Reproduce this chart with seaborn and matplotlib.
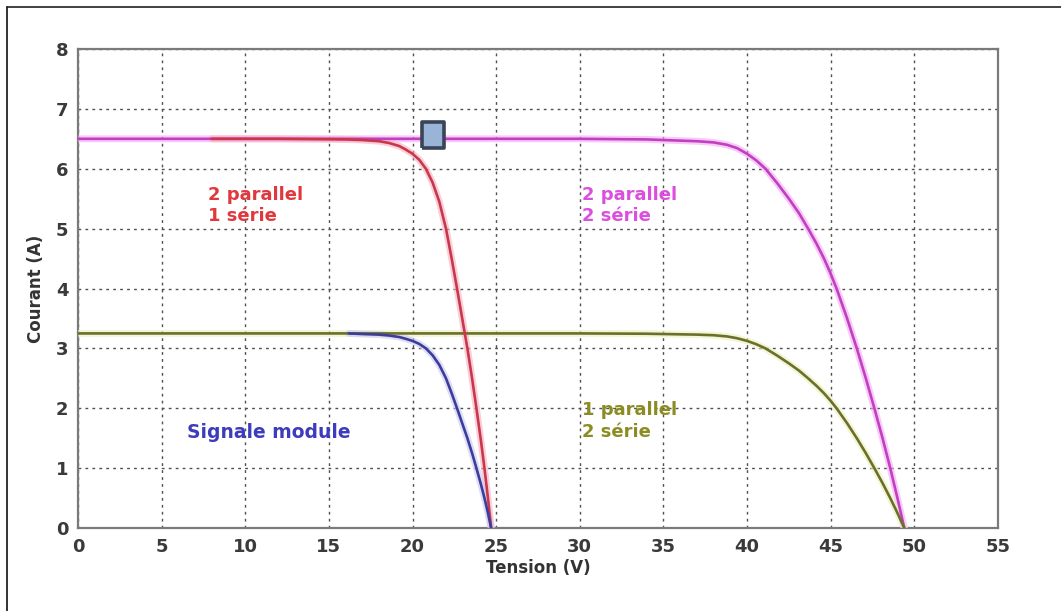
import matplotlib
matplotlib.use("Agg")
import matplotlib.pyplot as plt
from matplotlib.lines import Line2D
import seaborn as sns
import pandas as pd

# I-V characteristics of a PV array for different series/parallel groupings
v_2p2s = [0, 10, 20, 30, 34, 37, 38.0, 38.8, 39.4, 40.0, 40.55, 41.1, 41.8, 42.5,
          43.1, 43.65, 44.15, 44.6, 44.98, 45.35, 45.98, 46.56, 47.1, 47.61, 48.1,
          48.56, 48.99, 49.4]
i_2p2s = [6.5, 6.5, 6.5, 6.5, 6.49, 6.46, 6.44, 6.40, 6.345, 6.25, 6.14, 6.0, 5.76,
          5.5, 5.26, 5.0, 4.75, 4.5, 4.26, 4.0, 3.5, 3.0, 2.5, 2.0, 1.5, 1.0, 0.5, 0.0]

v_1p2s = [0, 10, 20, 30, 34, 37, 38.0, 38.8, 39.4, 40.0, 40.55, 41.1, 41.8, 42.5,
          43.1, 43.65, 44.15, 44.6, 44.98, 45.35, 45.98, 46.56, 47.1, 47.61, 48.1,
          48.56, 48.99, 49.4]
i_1p2s = [3.25, 3.25, 3.25, 3.25, 3.245, 3.23, 3.22, 3.20, 3.17, 3.125, 3.07, 3.0,
          2.88, 2.75, 2.63, 2.5, 2.375, 2.25, 2.13, 2.0, 1.75, 1.5, 1.25, 1.0, 0.75,
          0.5, 0.25, 0.0]

v_2p1s = [8, 12, 16, 17, 18, 18.6, 19.2, 19.6, 20.0, 20.4, 20.8, 21.2, 21.6, 22.0,
          22.34, 22.66, 22.97, 23.28, 23.56, 23.82, 24.07, 24.3, 24.51, 24.7]
i_2p1s = [6.5, 6.5, 6.49, 6.48, 6.46, 6.43, 6.38, 6.32, 6.25, 6.15, 6.0, 5.77, 5.45,
          5.0, 4.5, 4.0, 3.5, 3.0, 2.5, 2.0, 1.5, 1.0, 0.5, 0.0]

v_single = [16.2, 17, 18, 18.6, 19.2, 19.6, 20.0, 20.4, 20.8, 21.2, 21.6, 22.0,
            22.34, 22.66, 22.97, 23.28, 23.56, 23.82, 24.07, 24.3, 24.51, 24.7]
i_single = [3.25, 3.24, 3.23, 3.215, 3.19, 3.16, 3.125, 3.075, 3.0, 2.885, 2.725, 2.5,
            2.25, 2.0, 1.75, 1.5, 1.25, 1.0, 0.75, 0.5, 0.25, 0.0]

# data-tip marker
tip_v = [21.2]
tip_i = [6.56]

x_ticks = [0, 5, 10, 15, 20, 25, 30, 35, 40, 45, 50, 55]
y_ticks = [0, 1, 2, 3, 4, 5, 6, 7, 8]

sns.set_theme(style="white")
plt.rcParams["font.family"] = ["DejaVu Sans"]

fig = plt.figure(figsize=(10.61, 6.11), dpi=100)
ax = fig.add_axes([0.0735, 0.1358, 0.8671, 0.784])

curves = [
    (v_2p2s, i_2p2s, "#c040c0", "#f6a8f6"),
    (v_1p2s, i_1p2s, "#6e6e2c", "#e8f0b8"),
    (v_2p1s, i_2p1s, "#c8384c", "#f8b0c0"),
    (v_single, i_single, "#3c3c9c", "#c8c8f0"),
]
for v, i, core, halo in curves:
    df = pd.DataFrame({"V": v, "I": i})
    sns.lineplot(data=df, x="V", y="I", ax=ax, color=halo, lw=5.0,
                 sort=False, estimator=None, alpha=0.6, zorder=3)
for v, i, core, halo in curves:
    df = pd.DataFrame({"V": v, "I": i})
    sns.lineplot(data=df, x="V", y="I", ax=ax, color=core, lw=1.9,
                 sort=False, estimator=None, zorder=4)

ax.plot(tip_v, tip_i, linestyle="none",
        marker=[(-1, -1.25), (1, -1.25), (1, 1.25), (-1, 1.25), (-1, -1.25)],
        markersize=19, markerfacecolor="#9ab4d8", markeredgecolor="#3a4458",
        markeredgewidth=2.6, zorder=6)

ax.set_xlim(0, 55)
ax.set_ylim(0, 8)
ax.set_xticks(x_ticks)
ax.set_yticks(y_ticks)
ax.set_xticklabels([str(t) for t in x_ticks])
ax.set_yticklabels([str(t) for t in y_ticks])

ax.grid(True, linestyle=(0, (2, 3)), color="#505050", linewidth=1.0)
for s in ax.spines.values():
    s.set_color("#7a7a7a")
    s.set_linewidth(1.6)
ax.tick_params(direction="in", length=4, width=1, colors="#444444",
               labelsize=13, pad=7)
for lab in ax.get_xticklabels() + ax.get_yticklabels():
    lab.set_fontweight("bold")
    lab.set_color("#3a3a3a")

ax.set_xlabel("Tension (V)", fontsize=12, fontweight="bold", color="#333333", labelpad=2)
ax.set_ylabel("Courant (A)", fontsize=12, fontweight="bold", color="#333333", labelpad=8)

ax.text(7.76, 5.72, "2 parallel\n1 série", color="#e0383c", fontsize=13,
        fontweight="bold", va="top", ha="left", linespacing=1.25, zorder=5)
ax.text(30.15, 5.72, "2 parallel\n2 série", color="#dc4ede", fontsize=13,
        fontweight="bold", va="top", ha="left", linespacing=1.25, zorder=5)
ax.text(6.5, 1.6, "Signale module", color="#3c3cbc", fontsize=13.5,
        fontweight="bold", va="center", ha="left", zorder=5)
ax.text(30.15, 2.12, "1 parallel\n2 série", color="#8c8c24", fontsize=13,
        fontweight="bold", va="top", ha="left", linespacing=1.25, zorder=5)

# outer frame lines (top and left edges)
fig.add_artist(Line2D([0.0066, 1.0], [0.9885, 0.9885], color="#333333", lw=1.3))
fig.add_artist(Line2D([0.0066, 0.0066], [0.0, 0.9885], color="#222222", lw=1.3))

fig.savefig("out.png", dpi=100)
